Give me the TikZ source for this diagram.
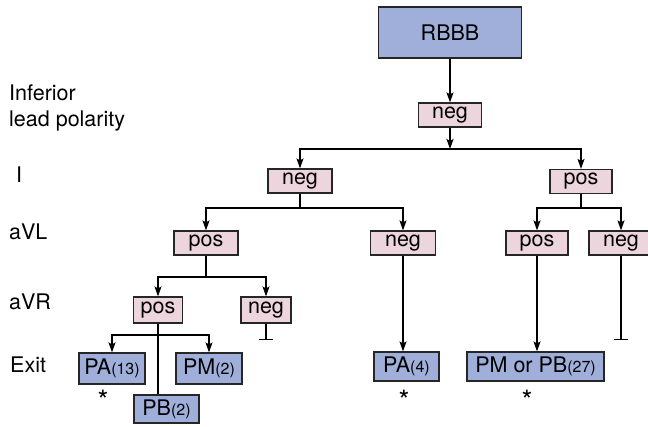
\documentclass[tikz,border=0pt]{standalone}
\usepackage{fontspec}
\setmainfont{TeX Gyre Heros}
\usepackage{tikz}
\usetikzlibrary{arrows.meta}

\definecolor{pinkbox}{RGB}{236,213,220}
\definecolor{bluebox}{RGB}{160,175,218}
\newcommand{\cnt}[1]{{\fontsize{16}{16}\selectfont(#1)}}

\begin{document}
\begin{tikzpicture}[
    x=1pt, y=-1pt,
    font=\fontsize{21.5}{26}\selectfont,
    b/.style={draw=black!85, line width=1.2pt, inner sep=0pt, align=center},
    lvl/.style={b, fill=pinkbox, minimum width=64pt, minimum height=24pt},
    ex/.style={b, fill=bluebox, minimum height=30pt},
    fl/.style={-{Stealth[length=10pt,width=7pt,inset=2pt]}, line width=1.2pt},
    ln/.style={line width=1.2pt},
    tee/.style={-{Bar[width=14pt]}, line width=1.2pt},
    lb/.style={anchor=base west, inner sep=0pt, align=left},
    st/.style={font=\fontsize{28}{28}\selectfont, inner sep=0pt},
]
    \useasboundingbox (0,0) rectangle (648,427);

    % row labels
    \node[lb] (tinf) at (9,127) {Inferior\\lead polarity};
    \node[lb] (tI) at (16,183) {I};
    \node[lb] (taVL) at (9,240) {aVL};
    \node[lb] (taVR) at (9,310) {aVR};
    \node[lb] (texit) at (10,373) {Exit};

    % tree
    \node[b, fill=bluebox, minimum width=143pt, minimum height=51pt] (rbbb) at (450,32.5) {RBBB};
    \node[lvl, minimum width=63pt] (inf) at (450,115) {neg};
    \node[lvl] (negI) at (300,181) {neg};
    \node[lvl, minimum width=62pt] (posI) at (581,181.5) {pos};
    \node[lvl] (posL) at (206,243) {pos};
    \node[lvl, minimum width=65pt] (negL) at (403,243) {neg};
    \node[lvl, minimum width=62pt] (posL2) at (537,243) {pos};
    \node[lvl] (negL2) at (621,243) {neg};
    \node[lvl, minimum width=49pt, minimum height=26pt] (posR) at (158,310) {pos};
    \node[lvl, minimum width=50pt, minimum height=26pt] (negR) at (266,310) {neg};

    % exits
    \node[ex, minimum width=66pt, minimum height=31pt] (pa13) at (112,368.5) {PA\cnt{13}};
    \node[ex, minimum width=66pt, minimum height=31pt] (pm2) at (209,368.5) {PM\cnt{2}};
    \node[ex, minimum width=65pt, minimum height=28pt] (pb2) at (166.5,409) {PB\cnt{2}};
    \node[ex, minimum width=65pt, minimum height=29pt] (pa4) at (406.5,366.5) {PA\cnt{4}};
    \node[ex, minimum width=137pt, minimum height=29pt] (pmpb) at (535.5,366.5) {PM or PB\cnt{27}};

    \node[st] (s1) at (103,400) {*};
    \node[st] (s2) at (404,400) {*};
    \node[st] (s3) at (527,400) {*};

    % junctions
    \coordinate (j1) at (450,149);
    \coordinate (j2) at (300,208);
    \coordinate (j3) at (581,208);
    \coordinate (j4) at (206,277);
    \coordinate (j5) at (158,335);
    \coordinate (tR) at (266,340);
    \coordinate (tL2) at (621,340);

    \draw[fl] (rbbb) -- (inf);
    \draw[fl] (inf) -- (j1);
    \draw[fl] (j1) -| (negI);
    \draw[fl] (j1) -| (posI);
    \draw[ln] (negI) -- (j2);
    \draw[fl] (j2) -| (posL);
    \draw[fl] (j2) -| (negL);
    \draw[ln] (posI) -- (j3);
    \draw[fl] (j3) -| (posL2);
    \draw[fl] (j3) -| (negL2);
    \draw[ln] (posL) -- (j4);
    \draw[fl] (j4) -| (posR);
    \draw[fl] (j4) -| (negR);
    \draw[ln] (posR) -- (posR |- pb2.north);
    \draw[fl] (j5) -| (pa13);
    \draw[fl] (j5) -| (pm2);
    \draw[tee] (negR) -- (tR);
    \draw[fl] (negL.south) -- (negL.south |- pa4.north);
    \draw[fl] (posL2) -- (posL2 |- pmpb.north);
    \draw[tee] (negL2) -- (tL2);
\end{tikzpicture}
\end{document}
